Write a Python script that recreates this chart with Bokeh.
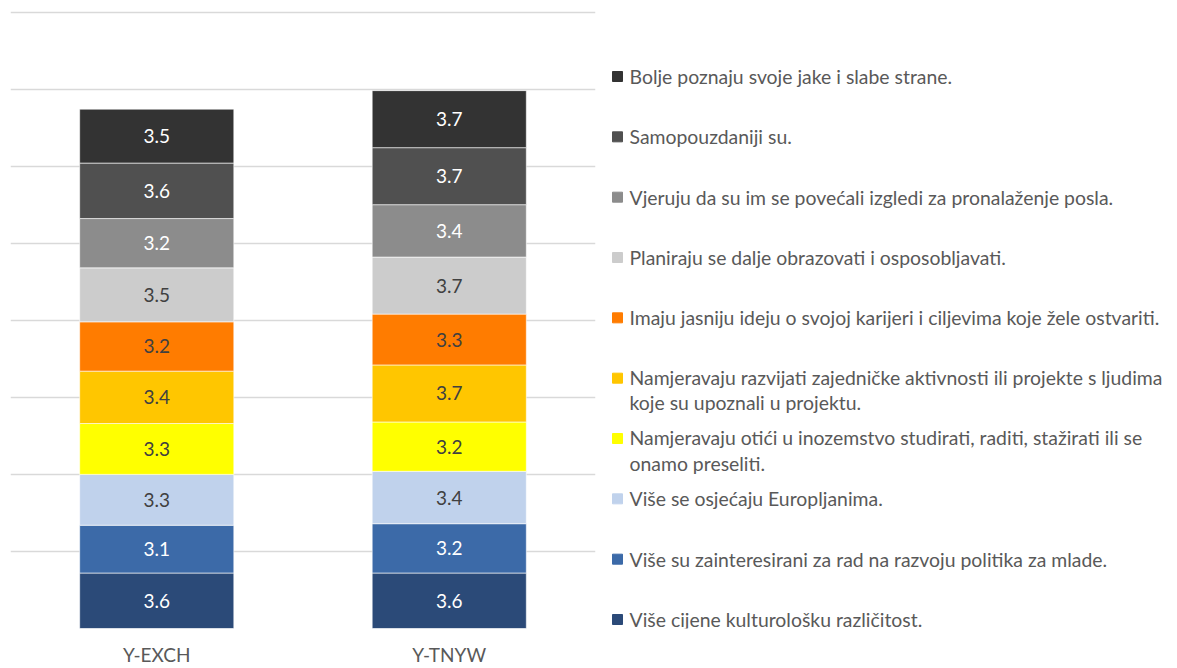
from bokeh.plotting import figure
from bokeh.layouts import row
from bokeh.models import ColumnDataSource, FactorRange, Range1d, FixedTicker
from bokeh.embed import file_html
from bokeh.resources import INLINE
from bokeh.core.properties import value
import numpy as np

categories = ["Y-EXCH", "Y-TNYW"]

# series from bottom of the stack to the top
series = [
    "Više cijene kulturološku različitost.",
    "Više su zainteresirani za rad na razvoju politika za mlade.",
    "Više se osjećaju Europljanima.",
    "Namjeravaju otići u inozemstvo studirati, raditi, stažirati ili se\nonamo preseliti.",
    "Namjeravaju razvijati zajedničke aktivnosti ili projekte s ljudima\nkoje su upoznali u projektu.",
    "Imaju jasniju ideju o svojoj karijeri i ciljevima koje žele ostvariti.",
    "Planiraju se dalje obrazovati i osposobljavati.",
    "Vjeruju da su im se povećali izgledi za pronalaženje posla.",
    "Samopouzdaniji su.",
    "Bolje poznaju svoje jake i slabe strane.",
]
y_exch = [3.6, 3.1, 3.3, 3.3, 3.4, 3.2, 3.5, 3.2, 3.6, 3.5]
y_tnyw = [3.6, 3.2, 3.4, 3.2, 3.7, 3.3, 3.7, 3.4, 3.7, 3.7]

colors = ["#2b4a78", "#3c6aa8", "#c0d2ec", "#ffff00", "#ffc600",
          "#ff7c00", "#cccccc", "#8c8c8c", "#505050", "#333333"]
label_colors = ["white", "white", "#404040", "#404040", "#404040",
                "#404040", "#404040", "white", "white", "white"]

FONT = "Lato"
TEXT_GREY = "#595959"

keys = [f"s{i}" for i in range(len(series))]
data = {"cat": categories}
for k, a, b in zip(keys, y_exch, y_tnyw):
    data[k] = [a, b]
src = ColumnDataSource(data)

p = figure(width=598, height=668, x_range=FactorRange(*categories, range_padding=0),
           y_range=Range1d(0, 40.1), toolbar_location=None, output_backend="svg",
           min_border_left=10, min_border_right=3, min_border_top=10, min_border_bottom=40)
p.vbar_stack(keys, x="cat", width=0.527, source=src, color=colors,
             line_color="white", line_width=1, line_alpha=0.6)

# data labels
lx, ly, lt, lc = [], [], [], []
for vals, cat in ((y_exch, categories[0]), (y_tnyw, categories[1])):
    arr = np.array(vals)
    mids = np.cumsum(arr) - arr / 2
    for i, (v, m) in enumerate(zip(arr, mids)):
        lx.append(cat)
        ly.append(m)
        lt.append(f"{v:.1f}")
        lc.append(label_colors[i])
p.text(x="cat", y="y", text="t", text_color="c",
       source=ColumnDataSource(dict(cat=lx, y=ly, t=lt, c=lc)),
       text_align="center", text_baseline="middle",
       text_font=value(FONT), text_font_size="19px")

p.yaxis.visible = False
p.xgrid.visible = False
p.ygrid.ticker = FixedTicker(ticks=list(range(0, 41, 5)))
p.ygrid.grid_line_color = "#d9d9d9"
p.ygrid.grid_line_width = 1.5
p.xaxis.axis_line_color = None
p.xaxis.major_tick_line_color = None
p.xaxis.minor_tick_line_color = None
p.xaxis.major_tick_out = 0
p.xaxis.minor_tick_out = 0
p.xaxis.major_label_standoff = 14
p.xaxis.major_label_text_font = FONT
p.xaxis.major_label_text_font_size = "19px"
p.xaxis.major_label_text_color = TEXT_GREY
p.outline_line_color = None

# legend (index 0 = bottom item)
n = len(series)
leg_idx = list(range(n))
nlines = [s.count("\n") + 1 for s in series]
lsrc = ColumnDataSource(dict(
    y=leg_idx, text=series, color=colors,
    yoff=[(m - 1) * 12 for m in nlines],
))
q = figure(width=579, height=668, x_range=Range1d(0, 579),
           y_range=Range1d(-0.149, 10.094), toolbar_location=None,
           output_backend="svg", min_border=0,
           x_axis_location=None, y_axis_location=None)
q.scatter(x=19, y="y", marker="square", size=10, color="color", source=lsrc)
q.text(x=31, y="y", text="text", y_offset="yoff", source=lsrc,
       text_baseline="middle", text_align="left", text_line_height=1.1,
       text_font=value(FONT), text_font_size="19.4px", text_color=TEXT_GREY)
q.grid.visible = False
q.outline_line_color = None

layout = row(p, q)
open("out.html", "w").write(file_html(layout, INLINE))
